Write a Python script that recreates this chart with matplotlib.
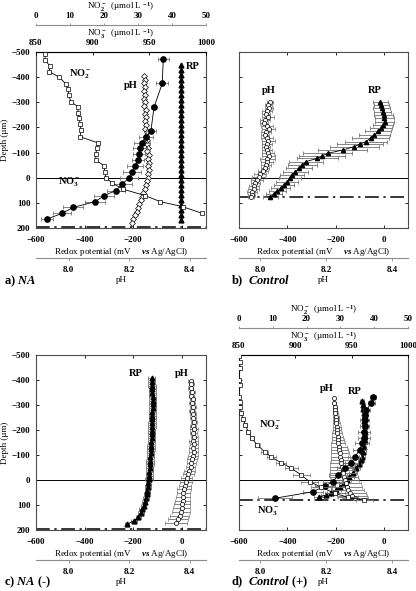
import numpy as np
import matplotlib
matplotlib.use('Agg')
import matplotlib.pyplot as plt

plt.rcParams['font.family'] = ['Liberation Serif', 'DejaVu Serif']
plt.rcParams['font.weight'] = 'bold'
plt.rcParams['mathtext.fontset'] = 'custom'
plt.rcParams['mathtext.rm'] = 'Liberation Serif:bold'
plt.rcParams['mathtext.it'] = 'Liberation Serif:italic:bold'
plt.rcParams['mathtext.bf'] = 'Liberation Serif:bold'

# ---------------- panel a) NA ----------------
a_no2_depth = [-492, -468, -444, -422, -399, -373, -352, -329, -302, -283, -259, -236, -214, -190,
               -163, -139, -117, -93, -70, -47, -24, 0, 22, 46, 71, 95, 115, 141]
a_no2 = [2.6, 2.7, 4.1, 3.9, 6.9, 8.8, 9.5, 9.6, 10.3, 12.3, 12.4, 12.7, 13.0, 13.2,
         13.0, 18.1, 17.9, 17.6, 17.6, 20.1, 20.2, 20.6, 22.5, 25.7, 32.1, 36.5, 43.1, 48.7]

a_no3_depth = [-471, -375, -280, -186, -163, -140, -117, -93, -70, -47, -24, 0, 26, 51, 71, 95, 118, 142, 165]
a_no3 = [962.3, 961.4, 954.1, 951.4, 947.0, 943.2, 941.7, 941.1, 940.2, 937.3, 934.4, 932.3,
         925.9, 920.6, 910.2, 902.3, 882.9, 872.9, 859.4]
a_no3_err = [4.9, 5.3, 2.2, 4.4, 6.2, 7.1, 6.2, 5.3, 5.3, 7.1, 7.9, 7.9, 8.8, 7.9, 8.8, 8.8, 8.8, 7.9, 5.3]

a_rp_depth = [-450, -430, -410, -390, -370, -350, -330, -310, -290, -270, -250, -230, -210, -190, -170, -150,
              -130, -110, -90, -70, -50, -30, -10, 10, 30, 50, 70, 90, 110, 130, 150, 170]
a_rp = [-1, -1, -1, -1, -1, -1, -1, -1, -1, -1, -1, -1, -1, -1, -1, -1,
        -1, -1, -1, -1, -1, -1, -1, -1, -1, -1, -1, -1, -1, -1, -1, -1]

a_ph_depth = [-405, -390, -375, -360, -345, -330, -315, -300, -285, -270, -255, -240, -225, -210, -195, -180,
              -165, -150, -135, -120, -105, -90, -75, -60, -45, -30, -15, 0, 15, 30, 45, 60, 75, 90, 105,
              120, 135, 150, 165, 180]
a_ph = [8.250, 8.254, 8.249, 8.253, 8.250, 8.254, 8.249, 8.253, 8.250, 8.255, 8.251, 8.255, 8.252, 8.256,
        8.253, 8.258, 8.256, 8.260, 8.258, 8.262, 8.260, 8.264, 8.262, 8.265, 8.263, 8.265, 8.263, 8.262,
        8.259, 8.256, 8.251, 8.247, 8.243, 8.239, 8.234, 8.230, 8.225, 8.219, 8.214, 8.208]
a_dash = 195

# ---------------- panel b) Control ----------------
b_rp_depth = [-302, -290, -276, -263, -250, -237, -223, -210, -197, -184, -170, -157, -144, -134, -124, -110,
              -97, -87, -77, -64, -50, -37, -24, -11, 2, 16, 29, 42, 54, 65, 76]
b_rp = [-14, -10, -8, -4, -1, 2, 3, -3, -11, -24, -39, -55, -74, -98, -122, -171,
        -233, -255, -275, -324, -338, -351, -366, -379, -390, -400, -414, -428, -442, -455, -470]
b_rp_err = [30, 32, 35, 35, 38, 38, 40, 40, 45, 55, 65, 75, 85, 95, 100, 100,
            100, 95, 85, 70, 60, 55, 50, 50, 45, 45, 40, 40, 35, 35, 30]

b_ph_depth = [-303, -291, -279, -267, -255, -243, -231, -219, -207, -195, -183, -171, -159, -147, -135, -123,
              -111, -99, -87, -75, -63, -51, -39, -27, -15, -3, 9, 21, 33, 45, 57, 69, 77]
b_ph = [8.030, 8.025, 8.028, 8.020, 8.018, 8.024, 8.015, 8.012, 8.020, 8.026, 8.018, 8.015, 8.022, 8.025,
        8.020, 8.018, 8.020, 8.024, 8.026, 8.022, 8.020, 8.018, 8.015, 8.008, 8.000, 7.996, 7.990, 7.986,
        7.982, 7.980, 7.976, 7.974, 7.972]
b_ph_err = [0.008, 0.010, 0.012, 0.015, 0.012, 0.018, 0.015, 0.012, 0.018, 0.020, 0.015, 0.012, 0.018, 0.020,
            0.015, 0.012, 0.015, 0.018, 0.020, 0.022, 0.018, 0.015, 0.012, 0.015, 0.018, 0.020, 0.018, 0.015,
            0.015, 0.018, 0.015, 0.012, 0.010]
b_dash = 77

# ---------------- panel c) NA (-) ----------------
c_rp_depth = [-408, -393, -378, -363, -348, -333, -318, -303, -288, -273, -258, -243, -228, -213, -198, -183,
              -168, -153, -138, -123, -108, -93, -78, -63, -48, -33, -18, -3, 12, 27, 42, 57, 72, 87, 102,
              117, 132, 147, 162, 177]
c_rp = [-124, -123, -122, -121, -121, -120, -120, -120, -120, -121, -121, -121, -122, -122, -123, -123,
        -124, -125, -126, -127, -128, -129, -130, -131, -132, -133, -134, -135, -137, -139, -141, -144,
        -148, -153, -157, -162, -168, -178, -195, -225]
c_rp_err = [15, 15, 15, 15, 15, 15, 15, 15, 15, 15, 15, 15, 15, 15, 15, 15,
            15, 15, 15, 15, 15, 15, 15, 15, 15, 15, 15, 15, 12, 12, 12, 12,
            12, 12, 12, 12, 12, 12, 12, 10]

c_ph_depth = [-398, -383, -368, -353, -338, -323, -308, -293, -278, -263, -248, -233, -218, -203, -188, -173,
              -158, -143, -128, -113, -98, -83, -68, -53, -38, -23, -8, 7, 22, 37, 52, 67, 82, 97, 112,
              127, 142, 157, 172]
c_ph = [8.403, 8.406, 8.404, 8.408, 8.406, 8.410, 8.408, 8.411, 8.409, 8.412, 8.410, 8.413, 8.411, 8.414,
        8.412, 8.415, 8.412, 8.414, 8.412, 8.413, 8.410, 8.408, 8.406, 8.403, 8.399, 8.395, 8.390, 8.387,
        8.384, 8.381, 8.379, 8.378, 8.377, 8.375, 8.374, 8.371, 8.367, 8.362, 8.355]
c_ph_err = [0.008, 0.008, 0.008, 0.009, 0.009, 0.009, 0.009, 0.010, 0.010, 0.010, 0.010, 0.010, 0.010, 0.012,
            0.012, 0.012, 0.014, 0.014, 0.015, 0.015, 0.016, 0.016, 0.016, 0.016, 0.018, 0.018, 0.018, 0.020,
            0.020, 0.022, 0.022, 0.024, 0.025, 0.026, 0.028, 0.030, 0.032, 0.034, 0.035]
c_dash = 197

# ---------------- panel d) Control (+) ----------------
d_no2_depth = [-496, -473, -447, -400, -380, -333, -313, -293, -267, -243, -220, -193, -167, -140,
               -113, -91, -69, -47, -20, 7, 29, 53, 69, 80]
d_no2 = [0.0, 0.2, 0.3, 0.0, 0.2, 0.0, 0.3, 0.4, 0.7, 1.2, 1.9, 2.7, 3.8, 5.4,
         7.6, 9.6, 12.5, 15.5, 18.4, 20.9, 24.4, 28.3, 32.2, 37.0]
d_no2_err = [0, 0, 0, 0, 0, 0, 0, 0, 0.2, 0.3, 0.4, 0.5, 0.6, 0.8,
             1.0, 1.2, 1.5, 2.0, 2.5, 2.5, 3.0, 3.0, 3.0, 2.5]

d_no3_depth = [-331, -307, -280, -260, -240, -215, -193, -170, -147, -120, -93, -67, -47, -20, 7, 24, 47, 73]
d_no3 = [968.9, 967.4, 963.0, 961.8, 961.6, 961.4, 961.0, 961.0, 959.2, 957.1, 952.7, 949.7, 943.8,
         937.9, 933.4, 926.1, 915.7, 881.7]
d_no3_err = [3, 3, 3, 3, 4, 4, 5, 5, 6, 6, 6, 6, 7, 8, 9, 9, 9, 15]

d_rp_depth = [-317, -300, -285, -270, -253, -235, -215, -193, -175, -155, -133, -113, -93, -80, -63, -47,
              -30, -13, 0, 13, 27, 40, 50, 60, 69]
d_rp = [-92, -88, -85, -83, -83, -81, -79, -78, -79, -80, -83, -88, -92, -96, -104, -115,
        -127, -143, -154, -167, -181, -199, -217, -240, -268]
d_rp_err = [8, 8, 8, 8, 9, 9, 10, 10, 10, 10, 10, 12, 12, 12, 14, 15, 16, 18, 18, 20, 20, 20, 20, 20, 20]

d_ph_depth = [-327, -310, -293, -280, -267, -253, -240, -227, -213, -200, -187, -173, -160, -147, -133, -120,
              -107, -93, -80, -67, -53, -40, -27, -13, 0, 13, 27, 40, 53, 63, 73]
d_ph = [8.224, 8.225, 8.226, 8.227, 8.228, 8.229, 8.230, 8.231, 8.232, 8.233, 8.234, 8.235, 8.236, 8.237,
        8.239, 8.240, 8.242, 8.243, 8.245, 8.246, 8.248, 8.250, 8.252, 8.254, 8.257, 8.260, 8.263, 8.267,
        8.272, 8.278, 8.287]
d_ph_err = [0.004, 0.005, 0.006, 0.007, 0.008, 0.009, 0.010, 0.011, 0.012, 0.013, 0.015, 0.017, 0.019, 0.021,
            0.023, 0.025, 0.027, 0.029, 0.031, 0.033, 0.035, 0.037, 0.039, 0.041, 0.043, 0.045, 0.047, 0.048,
            0.048, 0.045, 0.040]
d_dash = 80

redox_ticks = [-600, -400, -200, 0]
depth_ticks = [-500, -400, -300, -200, -100, 0, 100, 200]
ph_ticks = [8.0, 8.2, 8.4]
no3_ticks = [850, 900, 950, 1000]
no2_ticks = [0, 10, 20, 30, 40, 50]

FS = 6.5
EB = dict(ecolor='0.45', elinewidth=0.6, capsize=1.5, capthick=0.6)


def hide(ax, keep):
    for s in ['top', 'bottom', 'left', 'right']:
        if s != keep:
            ax.spines[s].set_visible(False)


def add_ph(ax, lim):
    t = ax.twiny()
    t.set_xlim(lim)
    t.xaxis.set_ticks_position('bottom')
    t.xaxis.set_label_position('bottom')
    t.spines['bottom'].set_position(('outward', 21.6))
    t.spines['bottom'].set_color('0.55')
    hide(t, 'bottom')
    t.set_xticks(ph_ticks)
    t.set_xticklabels(['8.0', '8.2', '8.4'])
    t.tick_params(axis='x', direction='out', length=2, width=0.6, color='0.55', labelsize=FS, pad=3.5)
    t.set_xlabel('pH', fontsize=FS, labelpad=1.5)
    return t


def add_nitrogen(ax):
    t3 = ax.twiny()
    t3.set_xlim(850, 1000)
    hide(t3, 'top')
    t3.set_xticks(no3_ticks)
    t3.tick_params(axis='x', direction='in', length=2.5, width=0.6, labelsize=FS, pad=3.5)
    t3.set_xlabel('NO$_3^-$  (\u00b5mol L $^{-1}$)', fontsize=FS, labelpad=2)
    t2 = ax.twiny()
    t2.set_xlim(0, 50)
    t2.spines['top'].set_position(('outward', 19.4))
    t2.spines['top'].set_color('0.55')
    hide(t2, 'top')
    t2.set_xticks(no2_ticks)
    t2.tick_params(axis='x', direction='out', length=1.5, width=0.6, color='0.55', labelsize=FS, pad=2)
    t2.set_xlabel('NO$_2^-$  (\u00b5mol L $^{-1}$)', fontsize=FS, labelpad=2)
    return t3, t2


def setup_main(ax, ylab, top_ticks, dash):
    ax.set_xlim(-600, 100)
    ax.set_ylim(200, -500)
    ax.set_xticks(redox_ticks)
    ax.set_yticks(depth_ticks)
    ax.tick_params(direction='in', length=2.5, width=0.6, labelsize=FS, pad=4,
                   top=top_ticks, right=True, labeltop=False)
    ax.tick_params(axis='x', pad=6)
    if ylab:
        ax.set_ylabel('Depth (\u00b5m)', fontsize=FS, labelpad=2)
    else:
        ax.set_yticklabels([])
    ax.set_xlabel('Redox potential (mV     $\\mathit{vs}$ Ag/AgCl)', fontsize=FS, labelpad=1)
    for s in ax.spines.values():
        s.set_linewidth(0.8)
        s.set_color('0.3')
    ax.axhline(0, color='k', lw=0.7, zorder=1)
    ax.axhline(dash, color='k', lw=1.1, ls=(0, (9, 3, 1.5, 3)), zorder=1)


fig = plt.figure(figsize=(4.16, 5.91), dpi=100)
ax_a = fig.add_axes([0.0865, 0.6142, 0.4087, 0.2978])
ax_b = fig.add_axes([0.5745, 0.6142, 0.4063, 0.2978])
ax_c = fig.add_axes([0.0865, 0.1032, 0.4087, 0.2961])
ax_d = fig.add_axes([0.5745, 0.1032, 0.4063, 0.2961])

# ---- a ----
ph_a = add_ph(ax_a, (7.892, 8.454))
no3_a, no2_a = add_nitrogen(ax_a)
setup_main(ax_a, True, False, a_dash)
no2_a.plot(a_no2, a_no2_depth, 's-', color='k', mfc='white', mec='k', ms=3, mew=0.5, lw=0.6)
no3_a.errorbar(a_no3, a_no3_depth, xerr=a_no3_err, fmt='o-', color='k', ms=3.8, lw=0.6, **EB)
ph_a.plot(a_ph, a_ph_depth, 'D-', color='0.4', mfc='white', mec='k', ms=3, mew=0.5, lw=0.5)
ax_a.plot(a_rp, a_rp_depth, '^-', color='k', ms=3.5, lw=0.6)
ax_a.text(0.259, 0.875, 'NO$_2^-$', transform=ax_a.transAxes, fontsize=7.5, ha='center', va='center')
ax_a.text(0.559, 0.807, 'pH', transform=ax_a.transAxes, fontsize=7.5, ha='center', va='center')
ax_a.text(0.924, 0.915, 'RP', transform=ax_a.transAxes, fontsize=7.5, ha='center', va='center')
ax_a.text(0.194, 0.261, 'NO$_3^-$', transform=ax_a.transAxes, fontsize=7.5, ha='center', va='center')

# ---- b ----
ph_b = add_ph(ax_b, (7.936, 8.448))
setup_main(ax_b, False, True, b_dash)
ph_b.errorbar(b_ph, b_ph_depth, xerr=b_ph_err, fmt='o-', color='0.4', mfc='white', mec='k', ms=3,
              mew=0.5, lw=0.5, **EB)
ax_b.errorbar(b_rp, b_rp_depth, xerr=b_rp_err, fmt='^-', color='k', ms=3, lw=0.6, **EB)
ax_b.text(0.175, 0.784, 'pH', transform=ax_b.transAxes, fontsize=7.5, ha='center', va='center')
ax_b.text(0.805, 0.784, 'RP', transform=ax_b.transAxes, fontsize=7.5, ha='center', va='center')

# ---- c ----
ph_c = add_ph(ax_c, (7.892, 8.454))
setup_main(ax_c, True, True, c_dash)
ph_c.errorbar(c_ph, c_ph_depth, xerr=c_ph_err, fmt='o-', color='0.4', mfc='white', mec='k', ms=3,
              mew=0.5, lw=0.5, **EB)
ax_c.errorbar(c_rp, c_rp_depth, xerr=c_rp_err, fmt='^-', color='k', ms=3.5, lw=0.6, **EB)
ax_c.text(0.588, 0.892, 'RP', transform=ax_c.transAxes, fontsize=7.5, ha='center', va='center')
ax_c.text(0.859, 0.892, 'pH', transform=ax_c.transAxes, fontsize=7.5, ha='center', va='center')

# ---- d ----
ph_d = add_ph(ax_d, (7.936, 8.448))
no3_d, no2_d = add_nitrogen(ax_d)
setup_main(ax_d, False, False, d_dash)
no2_d.errorbar(d_no2, d_no2_depth, xerr=d_no2_err, fmt='s-', color='k', mfc='white', mec='k', ms=3,
               mew=0.5, lw=0.6, **EB)
ph_d.errorbar(d_ph, d_ph_depth, xerr=d_ph_err, fmt='o-', color='0.4', mfc='white', mec='k', ms=3,
              mew=0.5, lw=0.5, **EB)
no3_d.errorbar(d_no3, d_no3_depth, xerr=d_no3_err, fmt='o-', color='k', ms=3.8, lw=0.6, **EB)
ax_d.errorbar(d_rp, d_rp_depth, xerr=d_rp_err, fmt='^-', color='k', ms=3.5, lw=0.6, **EB)
ax_d.text(0.518, 0.811, 'pH', transform=ax_d.transAxes, fontsize=7.5, ha='center', va='center')
ax_d.text(0.686, 0.789, 'RP', transform=ax_d.transAxes, fontsize=7.5, ha='center', va='center')
ax_d.text(0.183, 0.600, 'NO$_2^-$', transform=ax_d.transAxes, fontsize=7.5, ha='center', va='center')
ax_d.text(0.172, 0.109, 'NO$_3^-$', transform=ax_d.transAxes, fontsize=7.5, ha='center', va='center')

# panel labels
fig.text(0.010, 1 - 281 / 591, 'a) $\\mathit{NA}$', fontsize=9, va='center')
fig.text(0.555, 1 - 281 / 591, 'b)  $\\mathit{Control}$', fontsize=9, va='center')
fig.text(0.010, 1 - 582 / 591, 'c) $\\mathit{NA}$ (-)', fontsize=9, va='center')
fig.text(0.555, 1 - 582 / 591, 'd)  $\\mathit{Control}$ (+)', fontsize=9, va='center')

fig.savefig('out.png', dpi=100)
